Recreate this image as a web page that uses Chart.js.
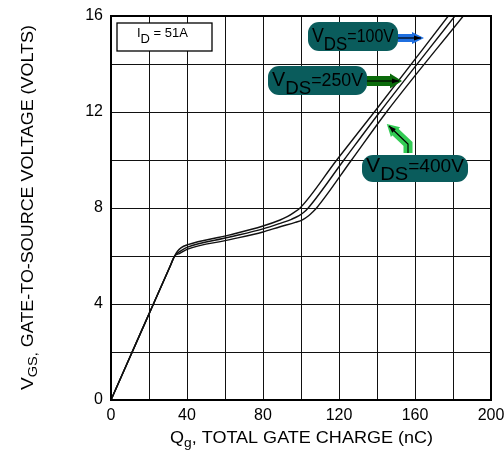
<!DOCTYPE html>
<html>
<head>
<meta charset="utf-8">
<script src="https://cdn.jsdelivr.net/npm/chart.js@4.4.1/dist/chart.umd.min.js"></script>
<style>
  html, body { margin: 0; padding: 0; background: #fff; }
  #wrap { position: relative; width: 504px; height: 450px; }
</style>
</head>
<body>
<div id="wrap"><canvas id="c" width="504" height="450"></canvas></div>
<script>
// gate charge curves (Qg nC -> Vgs V)
const Q_100V = [0, 16, 31, 33.5, 35, 37, 40, 62, 80, 89, 93, 96, 99.5, 118.8, 138.6, 177.5];
const V_100V = [0, 2.87, 5.55, 6.0, 6.2, 6.35, 6.46, 6.87, 7.25, 7.5, 7.65, 7.8, 8.0, 10, 12, 16];

const Q_250V = [0, 16, 31, 33.5, 35.5, 38, 40, 62, 80, 89, 95, 99, 101.5, 103.8, 122.6, 141.5, 181];
const V_250V = [0, 2.87, 5.55, 6.0, 6.15, 6.28, 6.36, 6.78, 7.13, 7.36, 7.53, 7.68, 7.82, 8.0, 10, 12, 16];

const Q_400V = [0, 16, 31, 33.5, 36, 40, 62, 80, 89, 97, 101, 104, 106, 108.2, 126.6, 145, 185.4];
const V_400V = [0, 2.87, 5.55, 6.0, 6.1, 6.28, 6.67, 7.0, 7.22, 7.4, 7.52, 7.68, 7.82, 8.0, 10, 12, 16];

const X_LABELS = [0, 40, 80, 120, 160, 200];
const Y_LABELS = [0, 4, 8, 12, 16];

const FONT = '"Liberation Sans", Arial, Helvetica, sans-serif';

function pts(qs, vs) { return qs.map((q, i) => ({ x: q, y: vs[i] })); }

// text pieces (for subscripts)
function runsWidth(ctx, runs) {
  let w = 0;
  runs.forEach(r => { ctx.font = r.size + 'px ' + FONT; w += ctx.measureText(r.t).width; });
  return w;
}
function drawRuns(ctx, x, y, runs, targetW) {
  const w = runsWidth(ctx, runs);
  const sx = targetW ? targetW / w : 1;
  ctx.save();
  ctx.translate(x, y);
  ctx.scale(sx, 1);
  let cx = 0;
  runs.forEach(r => {
    ctx.font = r.size + 'px ' + FONT;
    ctx.fillText(r.t, cx, r.dy || 0);
    cx += ctx.measureText(r.t).width;
  });
  ctx.restore();
}

function roundBox(ctx, x, y, w, h, r) {
  ctx.beginPath();
  ctx.moveTo(x + r, y);
  ctx.arcTo(x + w, y, x + w, y + h, r);
  ctx.arcTo(x + w, y + h, x, y + h, r);
  ctx.arcTo(x, y + h, x, y, r);
  ctx.arcTo(x, y, x + w, y, r);
  ctx.closePath();
  ctx.fill();
}

function vdsLabel(ctx, box, volts) {
  ctx.fillStyle = '#0a5c5c';
  roundBox(ctx, box.x, box.y, box.w, box.h, 11);
  ctx.fillStyle = '#000';
  ctx.textBaseline = 'alphabetic';
  ctx.textAlign = 'left';
  drawRuns(ctx, box.x + 4, box.y + box.vb, [
    { t: 'V', size: 20 },
    { t: 'DS', size: 19, dy: box.sb },
    { t: '=' + volts + 'V', size: 18 }
  ], box.w - 8);
}

// coloured band + thin black arrow along a polyline, tip at the last point
function bandArrow(ctx, path, color, thick) {
  const n = path.length;
  const [tx, ty] = path[n - 1];
  const [px, py] = path[n - 2];
  const ang = Math.atan2(ty - py, tx - px);
  const back = (d, s) => [tx - d * Math.cos(ang) - s * Math.sin(ang), ty - d * Math.sin(ang) + s * Math.cos(ang)];
  ctx.save();
  ctx.strokeStyle = color;
  ctx.lineWidth = thick;
  ctx.lineJoin = 'miter';
  ctx.beginPath();
  ctx.moveTo(path[0][0], path[0][1]);
  for (let i = 1; i < n - 1; i++) ctx.lineTo(path[i][0], path[i][1]);
  const b = back(8, 0);
  ctx.lineTo(b[0], b[1]);
  ctx.stroke();
  ctx.fillStyle = color;
  const h1 = back(9, -thick * 0.75), h2 = back(9, thick * 0.75);
  const tip = back(-3, 0);
  ctx.beginPath();
  ctx.moveTo(tip[0], tip[1]); ctx.lineTo(h1[0], h1[1]); ctx.lineTo(h2[0], h2[1]);
  ctx.closePath(); ctx.fill();
  ctx.strokeStyle = '#000';
  ctx.lineWidth = 1.2;
  ctx.beginPath();
  ctx.moveTo(path[0][0], path[0][1]);
  for (let i = 1; i < n; i++) ctx.lineTo(path[i][0], path[i][1]);
  ctx.stroke();
  ctx.fillStyle = '#000';
  const a1 = back(7, -2.6), a2 = back(7, 2.6);
  ctx.beginPath();
  ctx.moveTo(tx, ty); ctx.lineTo(a1[0], a1[1]); ctx.lineTo(a2[0], a2[1]);
  ctx.closePath(); ctx.fill();
  ctx.restore();
}

const decor = {
  id: 'decor',
  afterDatasetsDraw(chart) {
    const { ctx, chartArea: a } = chart;
    ctx.save();
    // frame
    ctx.strokeStyle = '#000';
    ctx.lineWidth = 2;
    ctx.strokeRect(a.left, a.top, a.right - a.left, a.bottom - a.top);

    // I_D box
    ctx.fillStyle = '#fff';
    ctx.fillRect(117, 23, 95, 28);
    ctx.lineWidth = 1.3;
    ctx.strokeRect(117, 23, 95, 28);
    ctx.fillStyle = '#000';
    ctx.textBaseline = 'alphabetic';
    drawRuns(ctx, 137, 37, [
      { t: 'I', size: 13 },
      { t: 'D', size: 13, dy: 6 },
      { t: ' = 51A', size: 13 }
    ]);

    // V_DS labels and arrows
    bandArrow(ctx, [[398, 38], [421, 38]], '#1f6fe0', 8);
    vdsLabel(ctx, { x: 308, y: 22, w: 90, h: 29, vb: 20, sb: 8 }, 100);
    bandArrow(ctx, [[367, 81], [399, 81]], '#0b6b0b', 10);
    vdsLabel(ctx, { x: 268, y: 66, w: 99, h: 29, vb: 19.5, sb: 8 }, 250);
    bandArrow(ctx, [[408, 153], [408, 144], [389, 126]], '#33cc55', 9);
    vdsLabel(ctx, { x: 362, y: 155, w: 106, h: 27, vb: 17, sb: 7.5 }, 400);

    // axis titles
    ctx.fillStyle = '#000';
    drawRuns(ctx, 170, 443, [
      { t: 'Q', size: 17 },
      { t: 'g', size: 13, dy: 4 },
      { t: ', TOTAL GATE CHARGE (nC)', size: 17 }
    ], 263);
    ctx.translate(33, 390);
    ctx.rotate(-Math.PI / 2);
    drawRuns(ctx, 0, 0, [
      { t: 'V', size: 17 },
      { t: 'GS,', size: 13, dy: 4 },
      { t: ' GATE-TO-SOURCE VOLTAGE (VOLTS)', size: 16 }
    ], 365);
    ctx.restore();
  }
};

const line = (data) => ({
  data, borderColor: '#111', borderWidth: 1.4, pointRadius: 0,
  cubicInterpolationMode: 'monotone', fill: false
});

new Chart(document.getElementById('c'), {
  type: 'line',
  data: {
    datasets: [
      line(pts(Q_100V, V_100V)),
      line(pts(Q_250V, V_250V)),
      line(pts(Q_400V, V_400V))
    ]
  },
  options: {
    responsive: false,
    animation: false,
    devicePixelRatio: 1,
    layout: { padding: { left: 0, right: 13, top: 16, bottom: 0 } },
    plugins: { legend: { display: false }, tooltip: { enabled: false } },
    scales: {
      x: {
        type: 'linear', min: 0, max: 200,
        afterFit: s => { s.height = 50; s.paddingLeft = 0; s.paddingRight = 0; },
        grid: { color: '#111', lineWidth: 1, drawTicks: false },
        border: { display: true, color: '#000', width: 2 },
        ticks: {
          stepSize: 20, autoSkip: false, maxRotation: 0, padding: 6,
          color: '#000', font: { family: FONT, size: 16 },
          callback: v => X_LABELS.includes(v) ? String(v) : ''
        }
      },
      y: {
        type: 'linear', min: 0, max: 16,
        afterFit: s => { s.width = 111; s.paddingTop = 0; s.paddingBottom = 0; },
        grid: { color: '#111', lineWidth: 1, drawTicks: false },
        border: { display: true, color: '#000', width: 2 },
        ticks: {
          stepSize: 2, autoSkip: false, padding: 8,
          color: '#000', font: { family: FONT, size: 16 },
          callback: v => Y_LABELS.includes(v) ? String(v) : ''
        }
      }
    }
  },
  plugins: [decor]
});
</script>
</body>
</html>
